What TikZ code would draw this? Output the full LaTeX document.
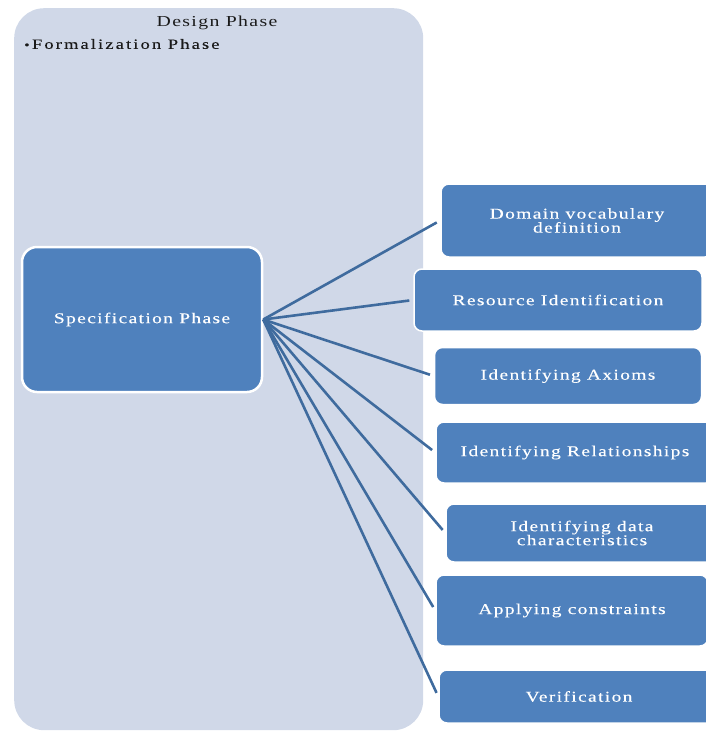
\documentclass[tikz,border=0pt]{standalone}
\usepackage{fontspec}
\setmainfont{Liberation Serif}
\newfontfamily\boxfont[LetterSpace=9, FakeStretch=1.3, FakeBold=0.2]{Liberation Serif}
\newfontfamily\panelfont[LetterSpace=9, FakeStretch=1.3]{Liberation Serif}
\newfontfamily\subfont[LetterSpace=15, FakeStretch=1.3, FakeBold=0.15]{Liberation Serif}
\usetikzlibrary{positioning}
\definecolor{panelfill}{HTML}{D0D8E8}
\definecolor{boxfill}{HTML}{4F81BD}
\definecolor{linkcol}{HTML}{3F6B9E}
\definecolor{paneltext}{HTML}{1A1A1A}
\tikzset{
  stepbox/.style={draw=white, line width=1.5pt, fill=boxfill, rounded corners=8pt,
    text=white, font=\boxfont\fontsize{15}{17}\selectfont, align=center, inner sep=0pt},
  link/.style={draw=linkcol, line width=2.6pt, shorten >=4pt},
}
\begin{document}
\begin{tikzpicture}[x=1pt, y=-1pt]
\useasboundingbox (0,0) rectangle (706,732);
\clip (0,0) rectangle (706,732);
% design panel
\node[draw=none, fill=panelfill, rounded corners=30pt, minimum width=409pt, minimum height=722pt,
  inner sep=0pt, anchor=north west] (panel) at (14,8) {};
\node[font=\panelfont\fontsize{15.2}{18}\selectfont, text=paneltext] (design) at (217,23) {Design Phase};
\node[font=\subfont\fontsize{14.2}{16}\selectfont, text=paneltext, anchor=west, inner sep=0pt] (formal) at (24,44) {{\fontsize{12}{12}\selectfont\textbullet}\,Formalization Phase};
% specification box
\node[stepbox, line width=2.5pt, rounded corners=15pt, minimum width=240pt, minimum height=145pt] (spec) at (142,319.5) {Specification Phase};
% right boxes
\node[stepbox, minimum width=272pt, minimum height=73pt] (b1) at (577,220.5) {Domain vocabulary\\[-3pt]definition};
\node[stepbox, minimum width=288pt, minimum height=62pt] (b2) at (558,300) {Resource Identification};
\node[stepbox, minimum width=267pt, minimum height=57pt] (b3) at (568,376) {Identifying Axioms};
\node[stepbox, minimum width=278pt, minimum height=61pt] (b4) at (575,452.5) {Identifying Relationships};
\node[stepbox, minimum width=272pt, minimum height=58pt] (b5) at (582,533) {Identifying data\\[-3pt]characteristics};
\node[stepbox, minimum width=272pt, minimum height=71pt] (b6) at (572,610.5) {Applying constraints};
\node[stepbox, minimum width=280pt, minimum height=53pt] (b7) at (579,696.5) {Verification};
% connectors
\foreach \b in {b1,b2,b3,b4,b5,b6,b7}
  \draw[link] (spec.east) -- (\b.west);
\end{tikzpicture}
\end{document}
